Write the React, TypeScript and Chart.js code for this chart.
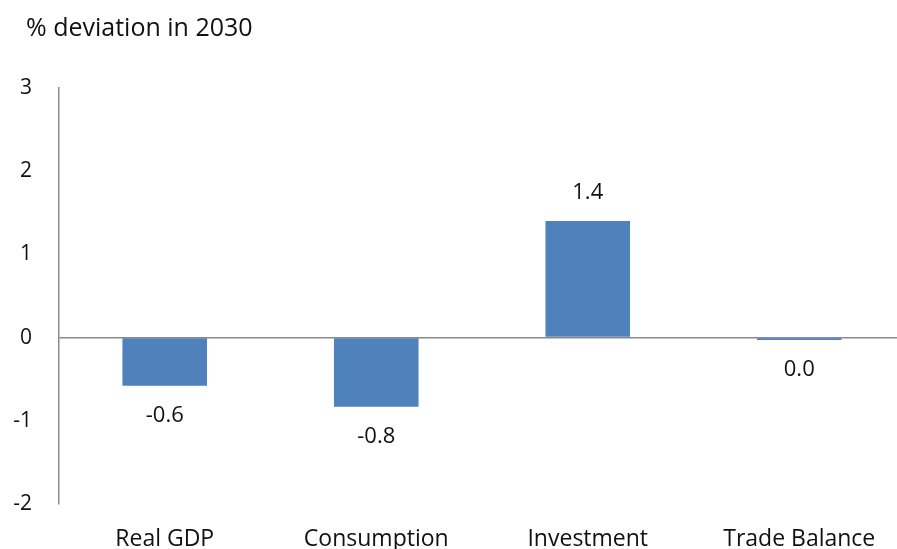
import React, { useEffect, useRef } from "react";
import { Chart, registerables } from "chart.js";

Chart.register(...registerables);

const categories = ["Real GDP", "Consumption", "Investment", "Trade Balance"];
const values = [-0.58, -0.83, 1.4, -0.03];
const valueLabels = ["-0.6", "-0.8", "1.4", "0.0"];
const yTicks = [3, 2, 1, 0, -1, -2];
const titleText = "% deviation in 2030";

const FONT = "'Open Sans', Lato, sans-serif";
const TEXT = "#111111";
const AXIS = "#8a8a8a";
const BAR = "#4f81bd";

const overlayPlugin = {
  id: "overlayText",
  afterDraw(chart: any) {
    const ctx = chart.ctx;
    ctx.save();
    ctx.fillStyle = TEXT;
    // title
    ctx.font = `25px ${FONT}`;
    ctx.textAlign = "left";
    ctx.textBaseline = "middle";
    ctx.fillText(titleText, 26, 29);
    // value labels
    const meta = chart.getDatasetMeta(0);
    ctx.font = `22px ${FONT}`;
    ctx.textAlign = "center";
    meta.data.forEach((bar: any, i: number) => {
      const v = values[i];
      const y = v >= 0 ? bar.y - 28 : bar.y + 30;
      ctx.fillText(valueLabels[i], bar.x, y);
    });
    ctx.restore();
  },
};

export default function App() {
  const ref = useRef<HTMLCanvasElement>(null);
  useEffect(() => {
    if (!ref.current) return;
    const chart = new Chart(ref.current, {
      type: "bar",
      data: {
        labels: categories,
        datasets: [
          {
            data: values,
            backgroundColor: BAR,
            borderWidth: 0,
            barPercentage: 0.4,
            categoryPercentage: 1,
          },
        ],
      },
      options: {
        animation: false,
        responsive: true,
        maintainAspectRatio: false,
        layout: { padding: { left: 0, right: 0, top: 88, bottom: 0 } },
        plugins: {
          legend: { display: false },
          tooltip: { enabled: false },
          title: { display: false },
        },
        scales: {
          x: {
            grid: { display: false, drawTicks: false },
            border: { display: false },
            ticks: {
              color: TEXT,
              font: { family: FONT, size: 23 },
              padding: 22,
              maxRotation: 0,
              autoSkip: false,
            },
            afterFit(scale: any) {
              scale.height = 45;
            },
          },
          y: {
            min: -2,
            max: 3,
            afterBuildTicks(scale: any) {
              scale.ticks = yTicks.map((v) => ({ value: v }));
            },
            grid: {
              drawTicks: false,
              color: (c: any) => (c.tick && c.tick.value === 0 ? AXIS : "rgba(0,0,0,0)"),
              lineWidth: 1.5,
            },
            border: { display: true, color: AXIS, width: 1.5 },
            ticks: {
              color: TEXT,
              font: { family: FONT, size: 21 },
              padding: 27,
            },
            afterFit(scale: any) {
              scale.width = 59;
            },
          },
        },
      },
      plugins: [overlayPlugin],
    });
    return () => chart.destroy();
  }, []);
  return (
    <div
      style={{
        position: "fixed",
        left: 0,
        top: 0,
        width: 897,
        height: 549,
        overflow: "hidden",
        background: "#fff",
      }}
    >
      <div style={{ position: "absolute", left: 0, top: 0, width: 905, height: 549 }}>
        <canvas ref={ref} />
      </div>
    </div>
  );
}
